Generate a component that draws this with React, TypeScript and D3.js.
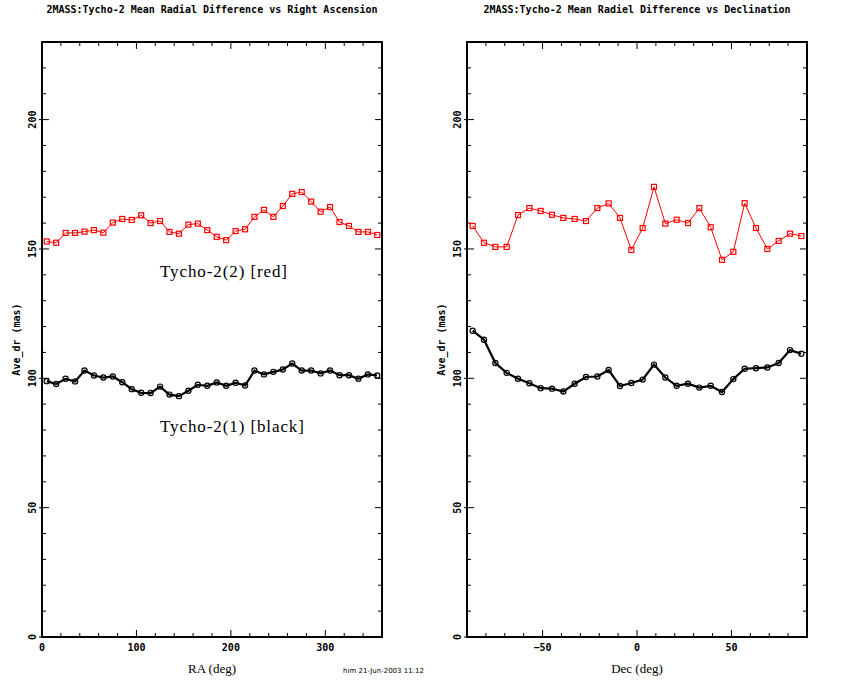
import { line, range, scaleLinear } from 'd3'

const raValues = [
  5, 15, 25, 35, 45, 55, 65, 75, 85, 95, 105, 115, 125, 135, 145, 155, 165, 175,
  185, 195, 205, 215, 225, 235, 245, 255, 265, 275, 285, 295, 305, 315, 325, 335, 345, 355,
]
const raRed = [
  152.9, 152.4, 156.2, 156.2, 156.7, 157.3, 156.3, 160.2, 161.6, 161.2, 163.0, 160.0,
  160.8, 156.6, 155.9, 159.4, 159.8, 157.3, 154.7, 153.4, 156.9, 157.6, 162.4, 165.1,
  162.4, 166.6, 171.3, 172.0, 168.3, 164.4, 166.2, 160.4, 158.9, 156.6, 156.6, 155.4,
]
const raBlack = [
  98.9, 97.8, 99.8, 98.8, 103.0, 101.1, 100.3, 100.7, 98.5, 95.8, 94.4, 94.3,
  96.8, 93.7, 93.1, 95.2, 97.5, 97.1, 98.4, 97.1, 98.3, 97.2, 103.0, 101.5,
  102.5, 103.4, 105.7, 103.0, 103.0, 101.9, 103.0, 101.2, 101.2, 99.8, 101.5, 101.1,
]

const decValues = [
  -87, -81, -75, -69, -63, -57, -51, -45, -39, -33, -27, -21, -15, -9, -3,
  3, 9, 15, 21, 27, 33, 39, 45, 51, 57, 63, 69, 75, 81, 87,
]
const decRed = [
  158.9, 152.4, 150.8, 150.8, 163.1, 165.8, 164.7, 163.2, 162.0, 161.6, 160.8, 165.8,
  167.6, 162.0, 149.6, 158.1, 174.0, 159.8, 161.3, 160.0, 165.8, 158.4, 145.8, 148.9,
  167.7, 158.1, 150.0, 153.1, 155.9, 155.0,
]
const decBlack = [
  118.4, 114.9, 105.9, 102.1, 99.8, 98.1, 96.2, 96.0, 94.9, 97.9, 100.5, 100.7,
  103.2, 97.0, 98.2, 99.5, 105.3, 100.3, 97.1, 97.9, 96.4, 97.1, 94.7, 99.7,
  103.7, 103.9, 104.2, 105.9, 110.9, 109.5,
]

const raTicks = [0, 100, 200, 300]
const decTicks = [-50, 0, 50]
const yTicks = [0, 50, 100, 150, 200]

const top = 42
const bottom = 637
const mono = '"DejaVu Sans Mono", monospace'
const serif = '"Liberation Serif", serif'

type PanelProps = {
  left: number
  right: number
  domain: [number, number]
  minorStep: number
  majorTicks: number[]
  xs: number[]
  red: number[]
  black: number[]
  title: string
  xLabel: string
}

function Panel({ left, right, domain, minorStep, majorTicks, xs, red, black, title, xLabel }: PanelProps) {
  const x = scaleLinear().domain(domain).range([left, right])
  const y = scaleLinear().domain([0, 230]).range([bottom, top])
  const xMinor = range(domain[0], domain[1] + 0.001, minorStep)
  const yMinor = range(0, 231, 10)

  const pathOf = (vals: number[]) =>
    line<number>()
      .x((_, i) => x(xs[i]))
      .y((v) => y(v))(vals) ?? ''

  const mid = (left + right) / 2

  return (
    <g>
      <text x={mid} y={13} textAnchor="middle" fontFamily={mono} fontSize={10} fontWeight="bold">
        {title}
      </text>

      {xMinor.map((t) => {
        const major = majorTicks.includes(t)
        const len = major ? 7 : 4
        return (
          <g key={`x${t}`} stroke="#000" strokeWidth={1}>
            <line x1={x(t)} x2={x(t)} y1={bottom} y2={bottom - len} />
            <line x1={x(t)} x2={x(t)} y1={top} y2={top + len} />
          </g>
        )
      })}
      {yMinor.map((t) => {
        const major = t % 50 === 0
        const len = major ? 7 : 4
        return (
          <g key={`y${t}`} stroke="#000" strokeWidth={1}>
            <line x1={major ? left - 3 : left} x2={left + len} y1={y(t)} y2={y(t)} />
            <line x1={right} x2={right - len} y1={y(t)} y2={y(t)} />
          </g>
        )
      })}

      <rect x={left} y={top} width={right - left} height={bottom - top} fill="none" stroke="#000" strokeWidth={2} />

      {majorTicks.map((t) => (
        <text key={`xl${t}`} x={x(t)} y={651} textAnchor="middle" fontFamily={mono} fontSize={10} fontWeight="bold">
          {t < 0 ? `\u2212${-t}` : t}
        </text>
      ))}
      {yTicks.map((t) => (
        <text
          key={`yl${t}`}
          transform={`translate(${left - 6}, ${y(t)}) rotate(-90)`}
          textAnchor="middle"
          fontFamily={mono}
          fontSize={10}
          fontWeight="bold"
        >
          {t}
        </text>
      ))}

      <text x={mid} y={673} textAnchor="middle" fontFamily={serif} fontSize={13}>
        {xLabel}
      </text>
      <text
        transform={`translate(${left - 22}, ${(top + bottom) / 2}) rotate(-90)`}
        textAnchor="middle"
        fontFamily={mono}
        fontSize={10}
        fontWeight="bold"
      >
        Ave_dr (mas)
      </text>

      <path d={pathOf(red)} fill="none" stroke="#ff0000" strokeWidth={1} />
      {red.map((v, i) => (
        <rect key={`r${i}`} x={x(xs[i]) - 2.5} y={y(v) - 2.5} width={5} height={5} fill="none" stroke="#ff0000" strokeWidth={1.2} />
      ))}

      <path d={pathOf(black)} fill="none" stroke="#000" strokeWidth={2.2} />
      {black.map((v, i) => (
        <circle key={`b${i}`} cx={x(xs[i])} cy={y(v)} r={2.6} fill="none" stroke="#000" strokeWidth={1.2} />
      ))}
    </g>
  )
}

export default function App() {
  return (
    <svg
      width={850}
      height={680}
      viewBox="0 0 850 680"
      style={{ position: 'absolute', left: 0, top: 0, background: '#fff' }}
    >
      <rect width={850} height={680} fill="#fff" />
      <Panel
        left={42}
        right={382}
        domain={[0, 360]}
        minorStep={20}
        majorTicks={raTicks}
        xs={raValues}
        red={raRed}
        black={raBlack}
        title="2MASS:Tycho-2 Mean Radial Difference vs Right Ascension"
        xLabel="RA (deg)"
      />
      <Panel
        left={467}
        right={807}
        domain={[-90, 90]}
        minorStep={10}
        majorTicks={decTicks}
        xs={decValues}
        red={decRed}
        black={decBlack}
        title="2MASS:Tycho-2 Mean Radiel Difference vs Declination"
        xLabel="Dec (deg)"
      />
      <text x={160} y={277} fontFamily={serif} fontSize={17} letterSpacing={0.9}>
        Tycho-2(2) [red]
      </text>
      <text x={160} y={432} fontFamily={serif} fontSize={17} letterSpacing={0.9}>
        Tycho-2(1) [black]
      </text>
      <text x={343} y={673} fontFamily='"DejaVu Sans", sans-serif' fontSize={7}>
        him 21-Jun-2003 11:12
      </text>
    </svg>
  )
}
